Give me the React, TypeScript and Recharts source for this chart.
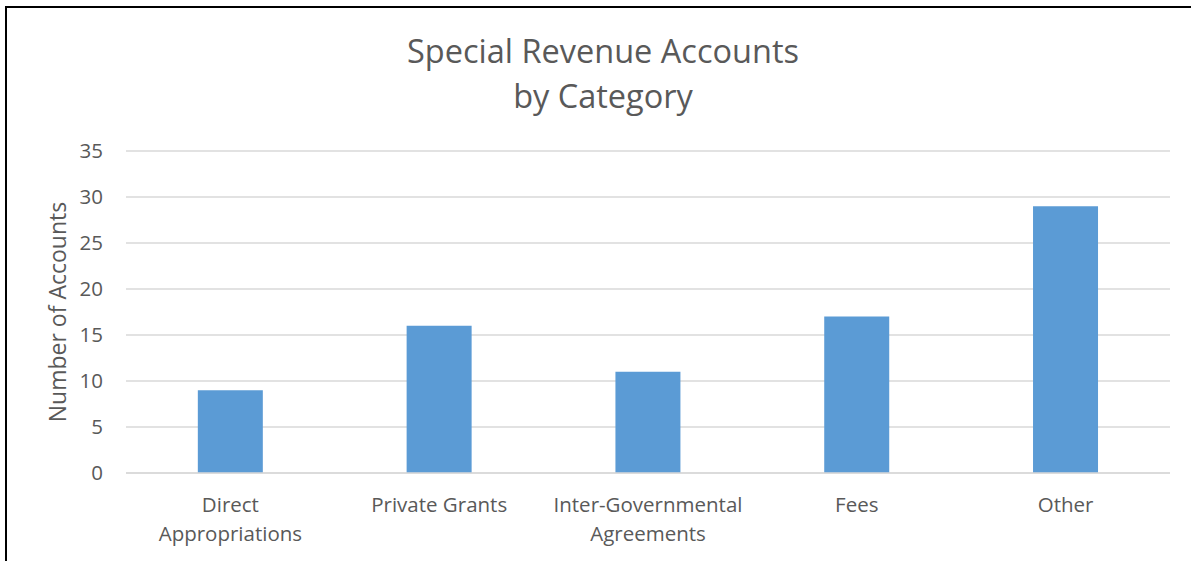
import { BarChart, Bar, XAxis, YAxis, CartesianGrid } from 'recharts';

const CATEGORIES = ['Direct Appropriations', 'Private Grants', 'Inter-Governmental Agreements', 'Fees', 'Other'];
const ACCOUNTS = [9, 16, 11, 17, 29];
const Y_TICKS = [0, 5, 10, 15, 20, 25, 30, 35];

const data = CATEGORIES.map((c, i) => ({ category: c, accounts: ACCOUNTS[i] }));

const FONT = '"Open Sans", Lato, sans-serif';
const GREY = '#595959';

// long labels wrap at the last space, like the original
function CategoryTick(props: any) {
  const { x, y, payload } = props;
  const label: string = payload.value;
  let lines = [label];
  if (label.length > 16) {
    const cut = label.lastIndexOf(' ');
    lines = [label.slice(0, cut), label.slice(cut + 1)];
  }
  return (
    <text x={x} y={y} textAnchor="middle" fill={GREY} fontSize={20.5} fontFamily={FONT}>
      {lines.map((l, i) => (
        <tspan key={i} x={x} dy={i === 0 ? 31 : 29}>{l}</tspan>
      ))}
    </text>
  );
}

function AxisTitle(props: any) {
  const { viewBox } = props;
  const cx = 57;
  const cy = viewBox.y + viewBox.height / 2;
  return (
    <text
      x={cx}
      y={cy}
      transform={`rotate(-90, ${cx}, ${cy})`}
      textAnchor="middle"
      dominantBaseline="central"
      fill={GREY}
      fontSize={23}
      fontFamily={FONT}
    >
      Number of Accounts
    </text>
  );
}

export default function App() {
  return (
    <div style={{ position: 'absolute', left: 0, top: 0, width: 1191, height: 561, background: '#fff', overflow: 'hidden' }}>
      <div
        style={{
          position: 'absolute', left: 5, top: 6, width: 1184, height: 553,
          borderLeft: '2px solid #000', borderTop: '2px solid #000',
        }}
      />
      <div
        style={{
          position: 'absolute', left: 0, top: 28, width: 1206, textAlign: 'center',
          fontFamily: FONT, fontSize: 32.5, lineHeight: '45px', color: GREY,
        }}
      >
        Special Revenue Accounts
        <br />
        by Category
      </div>
      <div style={{ position: 'absolute', left: 0, top: 0 }}>
        <BarChart
          width={1191}
          height={561}
          data={data}
          margin={{ top: 151, right: 21, left: 0, bottom: 0 }}
          barCategoryGap="34.4%"
        >
          <CartesianGrid vertical={false} stroke="#d9d9d9" strokeWidth={1.5} />
          <XAxis
            dataKey="category"
            height={88}
            interval={0}
            axisLine={{ stroke: '#d9d9d9', strokeWidth: 1.5 }}
            tickLine={false}
            tick={<CategoryTick />}
          />
          <YAxis
            width={126}
            domain={[0, 35]}
            ticks={Y_TICKS}
            axisLine={false}
            tickLine={false}
            tickMargin={17}
            tick={{ fill: GREY, fontSize: 20.5, fontFamily: FONT }}
            label={<AxisTitle />}
          />
          <Bar dataKey="accounts" fill="#5b9bd5" isAnimationActive={false} />
        </BarChart>
      </div>
    </div>
  );
}
